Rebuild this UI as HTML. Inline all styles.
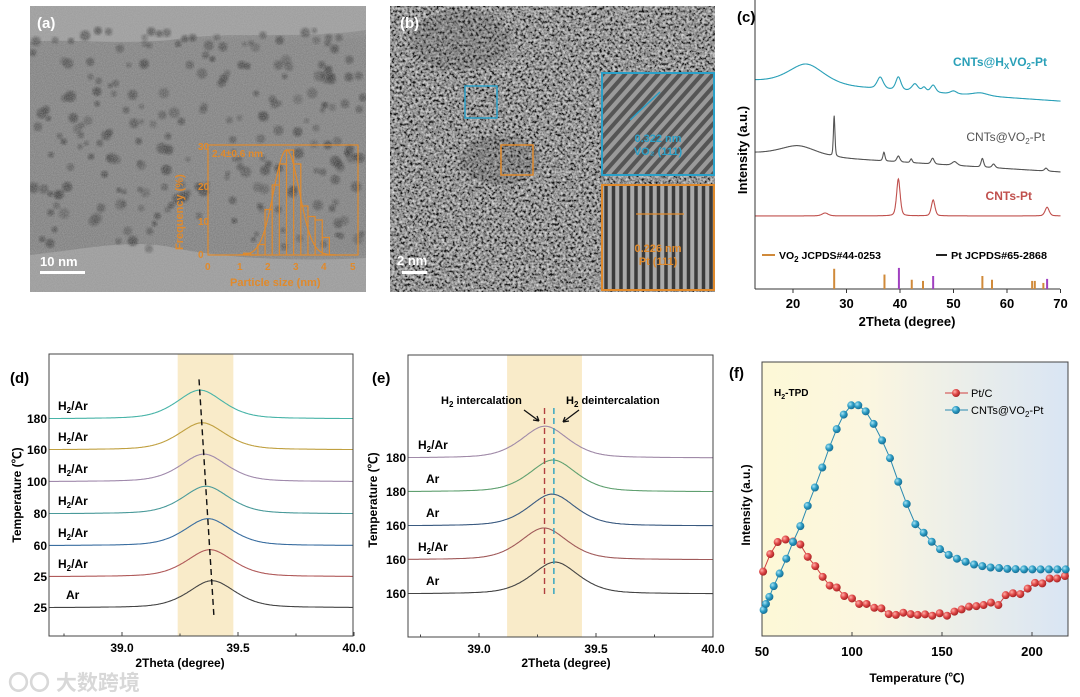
<!DOCTYPE html>
<html><head><meta charset="utf-8"><style>
html,body{margin:0;padding:0;background:#fff;}
svg{display:block;font-family:"Liberation Sans","Noto Sans CJK SC",sans-serif;}
.b{font-weight:bold;}
</style></head><body>
<svg id="fig" width="1080" height="697" viewBox="0 0 1080 697" xmlns="http://www.w3.org/2000/svg">
<defs>
<filter id="grainA" x="0" y="0" width="100%" height="100%"><feTurbulence type="fractalNoise" baseFrequency="0.9" numOctaves="2" seed="3"/><feColorMatrix type="matrix" values="0 0 0 0 0.47  0 0 0 0 0.47  0 0 0 0 0.47  0 0 0 -1.2 1.1"/></filter>
<filter id="grainB" x="0" y="0" width="100%" height="100%"><feTurbulence type="fractalNoise" baseFrequency="0.38" numOctaves="2" seed="7"/><feColorMatrix type="matrix" values="1.7 0 0 0 -0.5  1.7 0 0 0 -0.5  1.7 0 0 0 -0.5  0 0 0 0 1"/></filter>
<filter id="blur1"><feGaussianBlur stdDeviation="1.2"/></filter>
<linearGradient id="fbg" x1="0" x2="1" y1="0" y2="0"><stop offset="0" stop-color="#fdf8d6"/><stop offset="0.35" stop-color="#fbf6e0"/><stop offset="1" stop-color="#d9e5f4"/></linearGradient>
<linearGradient id="atop" x1="0" x2="0" y1="0" y2="1"><stop offset="0" stop-color="#9a9a9a"/><stop offset="0.12" stop-color="#7f7f7f"/><stop offset="0.85" stop-color="#7c7c7c"/><stop offset="1" stop-color="#959595"/></linearGradient>
<radialGradient id="redBall" cx="0.35" cy="0.35" r="0.7"><stop offset="0" stop-color="#ffb0a8"/><stop offset="0.5" stop-color="#e04848"/><stop offset="1" stop-color="#a02020"/></radialGradient>
<radialGradient id="blueBall" cx="0.35" cy="0.35" r="0.7"><stop offset="0" stop-color="#a8e4f4"/><stop offset="0.5" stop-color="#2c9cc4"/><stop offset="1" stop-color="#146a90"/></radialGradient>
<clipPath id="clipA"><rect x="30" y="6" width="336" height="286"/></clipPath>
<clipPath id="clipB"><rect x="390" y="6" width="325" height="286"/></clipPath>
<clipPath id="clipVo2"><rect x="602" y="73" width="112" height="102"/></clipPath>
<clipPath id="clipPt"><rect x="602" y="185" width="112" height="105"/></clipPath>
<clipPath id="clipD"><rect x="49" y="354" width="304" height="282"/></clipPath>
<clipPath id="clipE"><rect x="408" y="355" width="305" height="282"/></clipPath>
</defs>

<!-- Panel a -->
<g id="panelA" clip-path="url(#clipA)">
<rect x="30" y="6" width="336" height="286" fill="url(#atop)"/>
<path d="M30 6 H366 V30 C300 40 230 30 170 40 C110 45 70 38 30 42 Z" fill="#9c9c9c"/>
<path d="M30 292 V255 C80 250 130 238 175 248 C220 258 300 262 366 258 V292 Z" fill="#9a9a9a"/>
<g id="dotsA"></g>
<rect x="30" y="6" width="336" height="286" filter="url(#grainA)" opacity="0.55"/>
</g>
<text x="37" y="28" fill="#fff" font-size="15" class="b">(a)</text>
<text x="40" y="266" fill="#fff" font-size="13" class="b">10 nm</text>
<rect x="40" y="271" width="45" height="3" fill="#fff"/>
<g id="histA" fill="none" stroke="#e08a2c" stroke-width="1.2">
<rect x="208" y="145" width="150" height="110"/>
<polyline id="histBars" points=""/>
<polyline id="histFit" points=""/>
</g>
<g fill="#e08a2c" font-size="10" class="b">
<text x="212" y="157">2.4±0.6 nm</text>
<text x="198" y="150">30</text><text x="198" y="190">20</text><text x="198" y="225">10</text><text x="198" y="258">0</text>
<text x="205" y="270">0</text><text x="237" y="270">1</text><text x="265" y="270">2</text><text x="293" y="270">3</text><text x="321" y="270">4</text><text x="350" y="270">5</text>
<text x="230" y="286" font-size="11">Particle size (nm)</text>
<text transform="translate(183,250) rotate(-90)" font-size="11">Frequency (%)</text>
</g>

<!-- Panel b -->
<g id="panelB" clip-path="url(#clipB)">
<rect x="390" y="6" width="325" height="286" fill="#666"/>
<rect x="390" y="6" width="325" height="286" filter="url(#grainB)" opacity="0.8"/>
<ellipse cx="460" cy="40" rx="50" ry="30" fill="#444" opacity="0.2"/>
<ellipse cx="500" cy="160" rx="40" ry="25" fill="#333" opacity="0.18"/>
</g>
<text x="400" y="28" fill="#fff" font-size="15" class="b">(b)</text>
<text x="397" y="265" fill="#fff" font-size="13" class="b">2 nm</text>
<rect x="402" y="271" width="25" height="3" fill="#fff"/>
<rect x="465" y="86" width="32" height="32" fill="none" stroke="#2aa0c8" stroke-width="1.5"/>
<rect x="501" y="145" width="32" height="30" fill="none" stroke="#e08a2c" stroke-width="1.5"/>
<g>
<rect x="602" y="73" width="112" height="102" fill="#9a9a9a"/>
<g id="vo2Fringes" stroke="#555" stroke-width="4" clip-path="url(#clipVo2)"></g>
<rect x="602" y="73" width="112" height="102" fill="none" stroke="#2aa0c8" stroke-width="2"/>
<text x="658" y="142" fill="#2aa0c8" font-size="11" class="b" text-anchor="middle">0.322 nm</text>
<text x="658" y="155" fill="#2aa0c8" font-size="11" class="b" text-anchor="middle">VO₂ (111)</text>
<line x1="630" y1="120" x2="660" y2="92" stroke="#2aa0c8" stroke-width="1.5"/>
</g>
<g>
<rect x="602" y="185" width="112" height="105" fill="#aaa"/>
<g id="ptFringes" stroke="#3a3a3a" stroke-width="3.5" clip-path="url(#clipPt)"></g>
<rect x="602" y="185" width="112" height="105" fill="none" stroke="#e08a2c" stroke-width="2"/>
<text x="658" y="252" fill="#e08a2c" font-size="11" class="b" text-anchor="middle">0.226 nm</text>
<text x="658" y="265" fill="#e08a2c" font-size="11" class="b" text-anchor="middle">Pt (111)</text>
<line x1="636" y1="214" x2="684" y2="214" stroke="#e08a2c" stroke-width="1.2"/>
</g>

<!-- Panel c -->
<g id="panelC">
<text x="737" y="22" font-size="15" class="b">(c)</text>
<line x1="755" y1="0" x2="755" y2="289" stroke="#333" stroke-width="1"/>
<line x1="755" y1="289" x2="1060" y2="289" stroke="#333" stroke-width="1"/>
<g id="cTicks"></g>
<g id="cCurves"></g>
<g id="cSticks"></g>
<text transform="translate(747,150) rotate(-90)" font-size="13" class="b" text-anchor="middle">Intensity (a.u.)</text>
<text x="907" y="326" font-size="13" class="b" text-anchor="middle">2Theta (degree)</text>
<text x="1047" y="66" font-size="12" class="b" fill="#2aa0b8" text-anchor="end">CNTs@H<tspan font-size="8" dy="3">X</tspan><tspan dy="-3">VO</tspan><tspan font-size="8" dy="3">2</tspan><tspan dy="-3">-Pt</tspan></text>
<text x="1045" y="141" font-size="12" fill="#555" text-anchor="end">CNTs@VO<tspan font-size="8" dy="3">2</tspan><tspan dy="-3">-Pt</tspan></text>
<text x="1032" y="200" font-size="12" class="b" fill="#c0504d" text-anchor="end">CNTs-Pt</text>
<g font-size="10.5" class="b">
<line x1="762" y1="255" x2="775" y2="255" stroke="#d08a3a" stroke-width="2"/>
<text x="779" y="259">VO<tspan font-size="8" dy="3">2</tspan><tspan dy="-3"> JCPDS#44-0253</tspan></text>
<line x1="936" y1="255" x2="947" y2="255" stroke="#222" stroke-width="2"/>
<text x="951" y="259" textLength="96" lengthAdjust="spacingAndGlyphs">Pt  JCPDS#65-2868</text>
</g>
</g>

<!-- Panel d -->
<g id="panelD">
<text x="10" y="383" font-size="15" class="b">(d)</text>
<rect id="dBand" y="354" height="282" fill="#f8e8c0" opacity="0.85"/>
<g id="dCurves" clip-path="url(#clipD)"></g>
<rect x="49" y="354" width="304" height="282" fill="none" stroke="#444" stroke-width="1"/>
<g id="dTicks"></g>
<text transform="translate(21,495) rotate(-90)" font-size="12" class="b" text-anchor="middle">Temperature (℃)</text>
<text x="180" y="667" font-size="12" class="b" text-anchor="middle">2Theta (degree)</text>
</g>
<text x="8" y="690" font-size="21" fill="#d8d8d8" class="b">〇〇 大数跨境</text>

<!-- Panel e -->
<g id="panelE">
<text x="372" y="383" font-size="15" class="b">(e)</text>
<rect id="eBand" y="355" height="282" fill="#f8e8c0" opacity="0.85"/>
<g id="eCurves" clip-path="url(#clipE)"></g>
<rect x="408" y="355" width="305" height="282" fill="none" stroke="#444" stroke-width="1"/>
<g id="eTicks"></g>
<text transform="translate(377,500) rotate(-90)" font-size="12" class="b" text-anchor="middle">Temperature (℃)</text>
<text x="566" y="667" font-size="12" class="b" text-anchor="middle">2Theta (degree)</text>
<text x="441" y="404" font-size="11" class="b">H<tspan font-size="8" dy="3">2</tspan><tspan dy="-3"> intercalation</tspan></text>
<text x="566" y="404" font-size="11" class="b">H<tspan font-size="8" dy="3">2</tspan><tspan dy="-3"> deintercalation</tspan></text>
<path d="M524 410 L539 421 M539 421 l-6 -1 M539 421 l-2 -5" stroke="#111" stroke-width="1.3" fill="none"/>
<path d="M579 410 L563 422 M563 422 l6 -1 M563 422 l2 -5" stroke="#111" stroke-width="1.3" fill="none"/>
</g>

<!-- Panel f -->
<g id="panelF">
<text x="729" y="378" font-size="15" class="b">(f)</text>
<rect x="762" y="362" width="306" height="274" fill="url(#fbg)"/>
<rect x="762" y="362" width="306" height="274" fill="none" stroke="#444" stroke-width="1"/>
<g id="fTicks"></g>
<g id="fSeries"></g>
<text x="774" y="396" font-size="10" class="b">H<tspan font-size="7" dy="3">2</tspan><tspan dy="-3">-TPD</tspan></text>
<g font-size="11">
<line x1="945" y1="393" x2="968" y2="393" stroke="#d04040" stroke-width="1"/><circle cx="956" cy="393" r="4" fill="url(#redBall)"/>
<text x="971" y="397">Pt/C</text>
<line x1="945" y1="410" x2="968" y2="410" stroke="#2a8ab0" stroke-width="1"/><circle cx="956" cy="410" r="4" fill="url(#blueBall)"/>
<text x="971" y="414">CNTs@VO<tspan font-size="8" dy="3">2</tspan><tspan dy="-3">-Pt</tspan></text>
</g>
<text transform="translate(750,505) rotate(-90)" font-size="12" class="b" text-anchor="middle">Intensity (a.u.)</text>
<text x="917" y="682" font-size="12" class="b" text-anchor="middle">Temperature (℃)</text>
</g>
</svg>
<script>
// ===== Panel c data =====
const cTickVals = [20, 30, 40, 50, 60, 70];
const cyanBase = [72, 65];
const cyanPeaks = [[22.5, 7, 3.5], [36.3, 4, 0.6], [39.7, 4.5, 0.5], [42.8, 2.5, 0.6], [44.5, 1.5, 0.4], [46.2, 2.5, 0.5], [50, 1, 0.6], [55, 1, 1.5]];
const greyBase = [47, 40.5];
const greyPeaks = [[21, 3.5, 3.5], [27.7, 14, 0.15], [37, 3, 0.2], [39.7, 2, 0.3], [42.1, 1.3, 0.2], [46.1, 2, 0.3], [50.2, 1.3, 0.5], [55.4, 3, 0.25], [57.5, 1.3, 0.3], [67.3, 1, 0.3]];
const redBase = [25.3, 25.3];
const redPeaks = [[26, 1, 0.6], [39.7, 12.8, 0.35], [46.2, 5.5, 0.35], [67.5, 3, 0.4]];
const vo2Sticks = [[27.7, 7], [37.1, 5], [42.2, 3.2], [44.3, 2.8], [55.4, 4.5], [57.2, 3.2], [64.7, 2.8], [65.2, 2.8], [66.8, 2.1]];
const ptSticks = [[39.8, 7.3], [46.2, 4.5], [67.5, 3.5]];
// ===== Panel d data =====
const dLabels = ['25', '25', '60', '80', '100', '160', '180'];
const dGas = ['Ar', 'H2/Ar', 'H2/Ar', 'H2/Ar', 'H2/Ar', 'H2/Ar', 'H2/Ar'];
const dOffsets = [10.3, 21.3, 32.3, 43.6, 55, 66.3, 77.3];
const dPeakPos = [39.388, 39.379, 39.371, 39.362, 39.353, 39.345, 39.336];
const dPeakHeight = [9.6, 9.6, 9.6, 9.8, 9.8, 9.6, 10.2];
const dColors = ['#444', '#b05a5a', '#3a6ea0', '#4a9a9a', '#a08aac', '#c0a040', '#48b4a8'];
const dBand = [39.24, 39.48];
const dXTicks = [39.0, 39.5, 40.0];
// ===== Panel e data =====
const eLabels = ['160', '160', '160', '180', '180'];
const eGas = ['Ar', 'H2/Ar', 'Ar', 'Ar', 'H2/Ar'];
const eOffsets = [15.6, 27.7, 39.7, 51.8, 63.8];
const ePeakPos = [39.325, 39.278, 39.312, 39.316, 39.282];
const ePeakHeight = [11.3, 11.3, 11.3, 11.3, 11.3];
const eColors = ['#444', '#a05a5a', '#3a5a80', '#60a070', '#a08aa8'];
const eBand = [39.12, 39.44];
const eMarkers = [39.28, 39.32];
// ===== Panel f data =====
const fXTicks = [50, 100, 150, 200];
const blueT = [50.9,52.2,54.1,56.5,59.8,63.5,67.2,71.3,75.4,79.4,83.5,87.4,91.5,95.4,99.6,103.5,107.6,112.0,116.7,121.1,125.7,130.4,135.2,139.8,144.3,148.9,153.7,158.3,163.1,167.8,172.4,177.0,181.7,186.3,190.9,195.6,200.2,204.8,209.4,214.1,218.7];
const blueV = [9.5,11.7,14.3,18.2,22.8,28.2,34.3,40.1,47.5,54.2,61.5,68.8,75.5,80.8,84.2,84.2,82.0,77.4,71.4,64.9,56.3,48.2,40.8,37.7,34.4,31.7,29.6,28.2,27.1,26.1,25.5,25.0,24.8,24.5,24.4,24.3,24.3,24.3,24.3,24.3,24.3];
const redT = [50.6,54.6,58.7,63.1,67.2,71.3,75.4,79.6,83.7,87.6,91.5,95.7,100,104,108.1,112.4,116.3,120.4,124.4,128.5,132.6,136.5,140.6,144.6,148.7,152.8,156.9,160.9,165,169.1,173.1,177.2,181.3,185.4,189.4,193.5,197.6,201.7,205.7,209.8,213.9,218.3];
const redV = [23.5,29.9,34.3,35.2,34.5,33.4,28.9,25.5,21.6,18.4,17.7,14.6,13.7,11.7,11.7,10.3,10.1,8.0,7.7,8.5,8.0,7.7,7.9,7.4,8.3,7.4,8.9,9.7,10.7,10.9,11.3,12.2,11.3,14.9,15.6,15.3,17.3,19.4,19.2,21.0,21.0,21.9];

const NS = 'http://www.w3.org/2000/svg';
function mk(tag, attrs, parent) { const e = document.createElementNS(NS, tag); for (const k in attrs) e.setAttribute(k, attrs[k]); parent.appendChild(e); return e; }
function txt(x, y, s, attrs, parent) { const t = mk('text', Object.assign({x: x, y: y}, attrs), parent); t.textContent = s; return t; }

(function () {
  const g = document.getElementById('dotsA');
  let s = 12345; const rnd = () => (s = (s * 16807) % 2147483647) / 2147483647;
  for (let i = 0; i < 230; i++) {
    const x = 32 + rnd() * 332, y = 30 + rnd() * 220;
    const c = mk('circle', {cx: x, cy: y, r: 2.5 + rnd() * 3, fill: '#2e2e2e', opacity: 0.35 + rnd() * 0.4, filter: 'url(#blur1)'}, g);
    
    
  }
  const hx = v => 215 + v * 28.6, hy = v => 255 - v * 3.5;
  const bins = [[1, 0.5], [1.5, 3], [1.75, 13], [2, 20], [2.25, 26], [2.5, 30], [2.75, 26], [3, 14], [3.25, 11], [3.5, 10], [3.75, 5], [4, 0]];
  let p = [];
  bins.forEach(b => { p.push(hx(b[0]) + ',' + hy(0)); p.push(hx(b[0]) + ',' + hy(b[1])); p.push(hx(b[0] + 0.25) + ',' + hy(b[1])); p.push(hx(b[0] + 0.25) + ',' + hy(0)); });
  document.getElementById('histBars').setAttribute('points', p.join(' '));
  let f = [];
  for (let v = 0.8; v <= 4.2; v += 0.05) f.push(hx(v) + ',' + hy(30 * Math.exp(-Math.pow(v - 2.5, 2) / (2 * 0.45 * 0.45))));
  document.getElementById('histFit').setAttribute('points', f.join(' '));
  const vf = document.getElementById('vo2Fringes');
  for (let i = -8; i < 16; i++) mk('line', {x1: 602 + i * 11, y1: 175, x2: 602 + i * 11 + 90, y2: 73}, vf);
  const pf = document.getElementById('ptFringes');
  for (let i = 0; i < 15; i++) mk('line', {x1: 606 + i * 7.5, y1: 185, x2: 606 + i * 7.5, y2: 290}, pf);
})();

(function () {
  const X = t => 755 + (t - 12.9) * 5.35, Y = v => 289 - v * 2.89;
  const tg = document.getElementById('cTicks');
  cTickVals.forEach(t => {
    const l = mk('line', {x1: X(t), y1: 289, x2: X(t), y2: 293, stroke: '#333'}, tg);
    
    
    const tt = txt(X(t), 308, String(t), {'font-size': 13, 'font-weight': 'bold', 'text-anchor': 'middle'}, tg);
    
    
  });
  const cg = document.getElementById('cCurves');
  function curve(base, peaks, color, name) {
    let d = '';
    for (let t = 13; t <= 70; t += 0.05) {
      let v = base[0] + (base[1] - base[0]) * (t - 13) / 57;
      peaks.forEach(p => { const z = (t - p[0]) / p[2]; v += p[1] * (0.6 * Math.exp(-z * z / 2) + 0.4 / (1 + z * z)); });
      d += (d ? 'L' : 'M') + X(t).toFixed(1) + ' ' + Y(v).toFixed(1);
    }
    const e = mk('path', {d: d, fill: 'none', stroke: color, 'stroke-width': 1.1}, cg);
    
    
  }
  curve(cyanBase, cyanPeaks, '#2aa0b8', 'xrd-cnts-hxvo2-pt');
  curve(greyBase, greyPeaks, '#555', 'xrd-cnts-vo2-pt');
  curve(redBase, redPeaks, '#c0504d', 'xrd-cnts-pt');
  const sg = document.getElementById('cSticks');
  vo2Sticks.forEach(s => {
    const l = mk('line', {x1: X(s[0]), x2: X(s[0]), y1: 289, y2: Y(s[1]), stroke: '#d08a3a', 'stroke-width': 2}, sg);
    
    
  });
  ptSticks.forEach(s => {
    const l = mk('line', {x1: X(s[0]), x2: X(s[0]), y1: 289, y2: Y(s[1]), stroke: '#a040c0', 'stroke-width': 2}, sg);
    
    
  });
})();

function stacked(cfg) {
  const X = t => cfg.x0 + (t - 39.0) * cfg.k, Y = v => cfg.yb - v * 2.82;
  const band = document.getElementById(cfg.bandId);
  band.setAttribute('x', X(cfg.band[0])); band.setAttribute('width', X(cfg.band[1]) - X(cfg.band[0]));
  const g = document.getElementById(cfg.curvesId);
  cfg.offsets.forEach((o, i) => {
    let d = '';
    for (let t = 38.6; t <= 40.05; t += 0.005) {
      const z = (t - cfg.pos[i]) / 0.105;
      const v = o + cfg.h[i] * (0.55 * Math.exp(-z * z / 2) + 0.45 / (1 + z * z * 0.9)) - cfg.h[i] * 0.03;
      d += (d ? 'L' : 'M') + X(t).toFixed(1) + ' ' + Y(v).toFixed(1);
    }
    const p = mk('path', {d: d, fill: 'none', stroke: cfg.colors[i], 'stroke-width': 1.1}, g);
    
    
  });
  const tg = document.getElementById(cfg.ticksId);
  cfg.offsets.forEach((o, i) => {
    const t = txt(cfg.labX, Y(o) + 5, cfg.labels[i], {'font-size': 12, 'font-weight': 'bold', 'text-anchor': 'end'}, tg);
    
    
    const gas = cfg.gas[i];
    const gt = txt(gas === 'Ar' ? cfg.gasX + 8 : cfg.gasX, Y(o) - 8, '', {'font-size': 12, 'font-weight': 'bold'}, tg);
    
    
    if (gas === 'H2/Ar') {
      gt.appendChild(document.createTextNode('H'));
      const s = document.createElementNS(NS, 'tspan'); s.setAttribute('font-size', 8); s.setAttribute('dy', 3); s.textContent = '2'; gt.appendChild(s);
      const s2 = document.createElementNS(NS, 'tspan'); s2.setAttribute('dy', -3); s2.textContent = '/Ar'; gt.appendChild(s2);
    } else gt.textContent = gas;
  });
  dXTicks.forEach(v => {
    const l = mk('line', {x1: X(v), x2: X(v), y1: cfg.yb, y2: cfg.yb - 4, stroke: '#444'}, tg);
    
    
    const t = txt(X(v), cfg.yb + 16, v.toFixed(1), {'font-size': 12, 'font-weight': 'bold', 'text-anchor': 'middle'}, tg);
    
    
  });
  [38.75, 39.25, 39.75].forEach(v => { mk('line', {x1: X(v), x2: X(v), y1: cfg.yb, y2: cfg.yb - 2.5, stroke: '#444'}, tg); });
  return {X: X, Y: Y};
}
const dS = stacked({x0: 122, k: 232, yb: 636, band: dBand, bandId: 'dBand', curvesId: 'dCurves', ticksId: 'dTicks', offsets: dOffsets, pos: dPeakPos, h: dPeakHeight, colors: dColors, labels: dLabels, gas: dGas, labX: 47, gasX: 58, prefix: 'd'});
(function () {
  const n = dPeakPos.length - 1;
  const l = mk('line', {x1: dS.X(dPeakPos[n] - 0.004), y1: dS.Y(dOffsets[n] + dPeakHeight[n] + 3.5), x2: dS.X(dPeakPos[0] + 0.008), y2: dS.Y(dOffsets[0] - 3), stroke: '#111', 'stroke-width': 1.4, 'stroke-dasharray': '6,4'}, document.getElementById('dCurves'));
  
  
})();
const eS = stacked({x0: 479, k: 234, yb: 637, band: eBand, bandId: 'eBand', curvesId: 'eCurves', ticksId: 'eTicks', offsets: eOffsets, pos: ePeakPos, h: ePeakHeight, colors: eColors, labels: eLabels, gas: eGas, labX: 406, gasX: 418, prefix: 'e'});
(function () {
  const cols = ['#b04040', '#2aa0c0'];
  eMarkers.forEach((m, i) => {
    const l = mk('line', {x1: eS.X(m), x2: eS.X(m), y1: 408, y2: 597, stroke: cols[i], 'stroke-width': 1.4, 'stroke-dasharray': '6,4'}, document.getElementById('eCurves'));
    
    
  });
})();

(function () {
  const X = t => 762 + (t - 50) * 1.8, Y = v => 636 - v * 2.74;
  const tg = document.getElementById('fTicks');
  fXTicks.forEach(t => {
    const l = mk('line', {x1: X(t), x2: X(t), y1: 636, y2: 632, stroke: '#444'}, tg);
    
    
    const tt = txt(X(t), 656, String(t), {'font-size': 13, 'font-weight': 'bold', 'text-anchor': 'middle'}, tg);
    
    
  });
  const g = document.getElementById('fSeries');
  function series(T, V, col, fill, name) {
    const pts = T.map((t, i) => X(t).toFixed(1) + ',' + Y(V[i]).toFixed(1)).join(' ');
    const pl = mk('polyline', {points: pts, fill: 'none', stroke: col, 'stroke-width': 1}, g);
    
    
    T.forEach((t, i) => {
      const c = mk('circle', {cx: X(t), cy: Y(V[i]), r: 4, fill: fill}, g);
      
      
    });
  }
  series(redT, redV, '#d04040', 'url(#redBall)', 'pt-c');
  series(blueT, blueV, '#2a8ab0', 'url(#blueBall)', 'cnts-vo2-pt');
})();
</script>
</body></html>
